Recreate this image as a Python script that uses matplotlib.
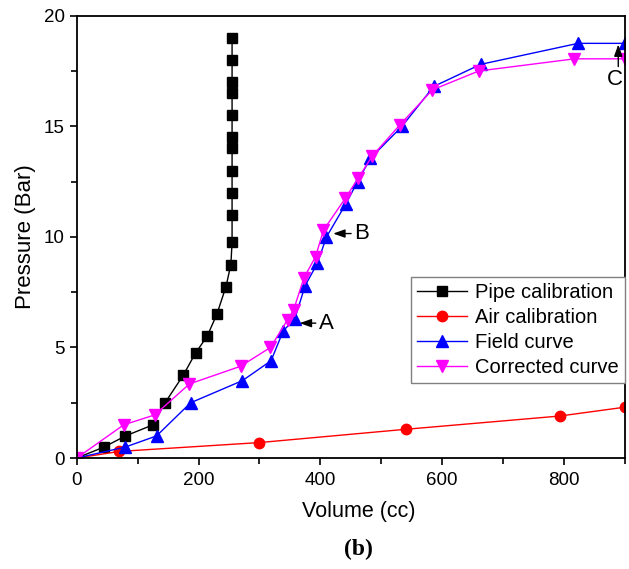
import matplotlib.pyplot as plt
from matplotlib.ticker import MultipleLocator

plt.rcParams['font.family'] = ['Liberation Sans', 'DejaVu Sans']

# pipe calibration (black squares)
pipe_x = [0, 45, 80, 125, 145, 175, 195, 214, 230, 245, 253, 255, 255, 255,
          255, 255, 255, 255, 255, 255, 255, 255]
pipe_y = [0, 0.5, 1.0, 1.5, 2.5, 3.75, 4.75, 5.5, 6.5, 7.75, 8.75, 9.75, 11,
          12, 13, 14, 14.5, 15.5, 16.5, 17, 18, 19]

# air calibration (red circles)
air_x = [0, 70, 300, 540, 793, 900]
air_y = [0, 0.3, 0.7, 1.3, 1.9, 2.3]

# field curve (blue triangles)
field_x = [0, 80, 131, 187, 272, 319, 339, 358, 375, 395, 410, 442, 461,
           482, 534, 586, 663, 823, 900]
field_y = [0, 0.5, 1.0, 2.5, 3.5, 4.4, 5.75, 6.3, 7.8, 8.8, 10.0, 11.5,
           12.5, 13.55, 15.0, 16.8, 17.8, 18.75, 18.75]

# corrected curve (magenta down triangles)
corr_x = [0, 77, 128, 185, 269, 318, 346, 356, 373, 392, 405, 441, 462,
          485, 530, 584, 660, 817, 900]
corr_y = [0, 1.5, 1.95, 3.35, 4.15, 5.0, 6.25, 6.7, 8.15, 9.1, 10.3, 11.75,
          12.65, 13.65, 15.05, 16.65, 17.5, 18.05, 18.05]

fig = plt.figure(figsize=(6.29, 5.69), dpi=100)
ax = fig.add_axes([0.122, 0.195, 0.8716, 0.7774])

ax.plot(pipe_x, pipe_y, '-s', color='black', lw=1, ms=6.5, label='Pipe calibration')
ax.plot(air_x, air_y, '-o', color='#ff0000', lw=1, ms=7.5, label='Air calibration')
ax.plot(field_x, field_y, '-^', color='#0000ff', lw=1, ms=8, label='Field curve')
ax.plot(corr_x, corr_y, '-v', color='#ff00ff', lw=1, ms=8, label='Corrected curve')

arrow = dict(arrowstyle='-|>,head_length=0.7,head_width=0.25', color='black', lw=1,
             mutation_scale=10, shrinkA=0, shrinkB=0)
ax.annotate('A', xy=(366, 6.1), xytext=(397, 6.1), fontsize=16, va='center', ha='left',
            arrowprops=arrow)
ax.annotate('B', xy=(421, 10.15), xytext=(455, 10.15), fontsize=16, va='center', ha='left',
            arrowprops=arrow)
ax.annotate('', xy=(889, 18.7), xytext=(889, 17.7), arrowprops=arrow)
ax.text(884, 17.1, 'C', fontsize=16, ha='center', va='center')

ax.set_xlim(0, 900)
ax.set_ylim(0, 20)
ax.xaxis.set_major_locator(MultipleLocator(200))
ax.xaxis.set_minor_locator(MultipleLocator(100))
ax.yaxis.set_major_locator(MultipleLocator(5))
ax.yaxis.set_minor_locator(MultipleLocator(2.5))
ax.tick_params(which='both', direction='out', width=1.2, labelsize=13.5)
ax.tick_params(which='major', length=5)
ax.tick_params(which='minor', length=4)
ax.tick_params(axis='x', pad=5)
for s in ax.spines.values():
    s.set_linewidth(1.3)

ax.set_xlabel('Volume (cc)', fontsize=15.5)
ax.xaxis.set_label_coords(0.515, -0.098)
ax.set_ylabel('Pressure (Bar)', fontsize=16, labelpad=6)

leg = ax.legend(loc='upper right', bbox_to_anchor=(1.0, 0.41), fontsize=14.5,
                fancybox=False, edgecolor='gray', framealpha=1,
                borderaxespad=0, handlelength=2.5, labelspacing=0.3,
                borderpad=0.3, handletextpad=0.4)
leg.get_frame().set_linewidth(1)

fig.text(0.57, 0.035, '(b)', fontsize=17, fontweight='bold',
         family='Liberation Serif', ha='center', va='center')

fig.savefig('out.png', dpi=100)
